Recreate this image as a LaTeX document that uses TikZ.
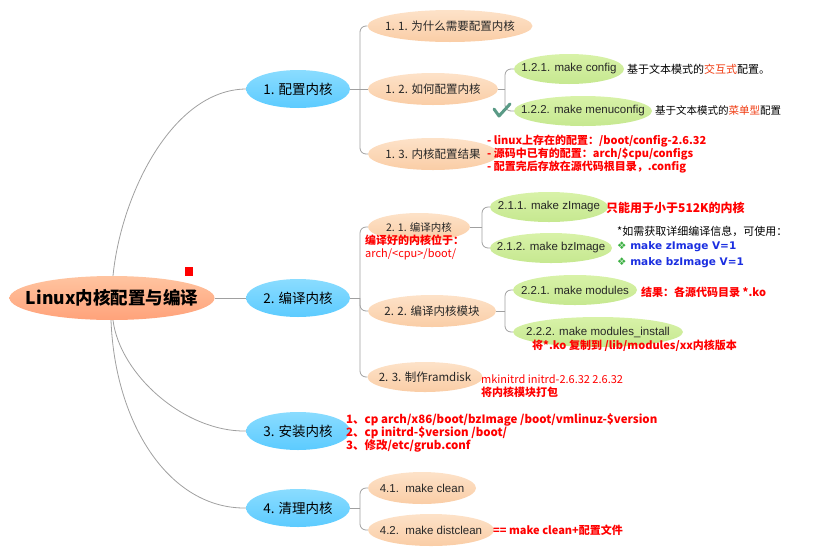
\documentclass[tikz,border=0pt]{standalone}
\usepackage{fontspec}
\setmainfont{Liberation Sans}
\newfontfamily\cjk{Noto Sans CJK SC}
\newfontfamily\dvs{DejaVu Sans}
\usetikzlibrary{shapes.geometric}
\definecolor{conncol}{HTML}{A0A0A0}
\definecolor{redtxt}{HTML}{FF0000}
\definecolor{orred}{HTML}{F03A10}
\definecolor{bluetxt}{HTML}{1A2EE0}
\definecolor{diamcol}{HTML}{3CB043}
\definecolor{checkcol}{HTML}{5A9A86}
\definecolor{roottop}{HTML}{FFC4A0}
\definecolor{rootmid}{HTML}{FF7A3C}
\definecolor{rootbot}{HTML}{FFA27A}
\definecolor{bluetop}{HTML}{8ADCFF}
\definecolor{bluemid}{HTML}{00A6EE}
\definecolor{bluebot}{HTML}{5CCBFF}
\definecolor{peachtop}{HTML}{FDE2C8}
\definecolor{peachmid}{HTML}{F6B47F}
\definecolor{peachbot}{HTML}{FACDA6}
\definecolor{greentop}{HTML}{D8F2A8}
\definecolor{greenmid}{HTML}{94CE44}
\definecolor{greenbot}{HTML}{C6E890}
\tikzset{
  base/.style={ellipse, inner sep=-40pt, draw=none},
  rootnode/.style={base, top color=roottop, middle color=rootmid, bottom color=rootbot},
  lone/.style={base, top color=bluetop, middle color=bluemid, bottom color=bluebot},
  ltwo/.style={base, top color=peachtop, middle color=peachmid, bottom color=peachbot},
  lthree/.style={base, top color=greentop, middle color=greenmid, bottom color=greenbot},
  conn/.style={draw=conncol, line width=0.8pt},
  bracket/.style={conn, rounded corners=6pt},
  lbl/.style={anchor=west, inner sep=0pt, align=left},
  redlbl/.style={lbl, text=redtxt, font=\cjk\bfseries\fontsize{11}{13}\selectfont},
  twofont/.style={font=\cjk\fontsize{11.5}{13}\selectfont, text=black!85},
  threefont/.style={font=\fontsize{11.5}{13}\selectfont, text=black!85},
}
\begin{document}
\begin{tikzpicture}[x=1pt,y=-1pt]
\useasboundingbox (0,0) rectangle (840,555);
% root
\node[rootnode, minimum width=205pt, minimum height=44pt] (root) at (112,298)
  {\cjk\bfseries\fontsize{17.5}{19}\selectfont Linux内核配置与编译};
\fill[red] (185,267) rectangle (193,276);
% level 1
\node[lone, minimum width=104pt, minimum height=38pt] (n1) at (298,89) {\cjk\fontsize{13.5}{15}\selectfont 1. 配置内核};
\node[lone, minimum width=104pt, minimum height=38pt] (n2) at (298,298) {\cjk\fontsize{13.5}{15}\selectfont 2. 编译内核};
\node[lone, minimum width=104pt, minimum height=38pt] (n3) at (298,431) {\cjk\fontsize{13.5}{15}\selectfont 3. 安装内核};
\node[lone, minimum width=104pt, minimum height=38pt] (n4) at (298,508) {\cjk\fontsize{13.5}{15}\selectfont 4. 清理内核};
% level 2
\node[ltwo, twofont, minimum width=165pt, minimum height=32pt] (n11) at (450,26) {1. 1. 为什么需要配置内核};
\node[ltwo, twofont, minimum width=130pt, minimum height=32pt] (n12) at (433,89) {1. 2. 如何配置内核};
\node[ltwo, twofont, minimum width=130pt, minimum height=32pt] (n13) at (433,154) {1. 3. 内核配置结果};
\node[ltwo, twofont, font=\cjk\fontsize{10.5}{12}\selectfont, minimum width=102pt, minimum height=28pt] (n21) at (419,227) {2. 1. 编译内核};
\node[ltwo, twofont, minimum width=128pt, minimum height=32pt] (n22) at (432,311) {2. 2. 编译内核模块};
\node[ltwo, twofont, minimum width=115pt, minimum height=30pt] (n23) at (425,377) {2. 3. 制作ramdisk};
\node[ltwo, threefont, minimum width=108pt, minimum height=32pt] (n41) at (422,488) {4.1.\ \ make clean};
\node[ltwo, threefont, minimum width=126pt, minimum height=32pt] (n42) at (431,530) {4.2.\ \ make distclean};
% level 3
\node[lthree, threefont, minimum width=110pt, minimum height=30pt] (n121) at (569,69) {1.2.1. make config};
\node[lthree, threefont, minimum width=138pt, minimum height=30pt] (n122) at (583,111) {1.2.2. make menuconfig};
\node[lthree, threefont, minimum width=118pt, minimum height=30pt] (n211) at (549,207) {2.1.1. make zImage};
\node[lthree, threefont, minimum width=122pt, minimum height=30pt] (n212) at (551,248) {2.1.2. make bzImage};
\node[lthree, threefont, minimum width=124pt, minimum height=30pt] (n221) at (575,290) {2.2.1. make modules};
\node[lthree, threefont, minimum width=170pt, minimum height=30pt] (n222) at (598,332) {2.2.2. make modules\_install};
% connectors from root
\draw[conn] (root.east) -- (n2.west);
\draw[conn] ([xshift=1pt]root.north) .. controls (121,195) and (172,90) .. (n1.west);
\draw[conn] ([xshift=1pt]root.south) .. controls (120,375) and (185,432) .. (n3.west);
\draw[conn] ([xshift=-1pt]root.south) .. controls (115,425) and (170,509) .. (n4.west);
% brackets
\coordinate (b1) at (360,89);
\draw[conn] (n1.east) -- (b1);
\draw[bracket] (b1) |- (n11.west);
\draw[bracket] (b1) |- (n13.west);
\draw[conn] (b1) -- (n12.west);
\coordinate (b12) at (505,89);
\draw[conn] (n12.east) -- (b12);
\draw[bracket] (b12) |- (n121.west);
\draw[bracket] (b12) |- (n122.west);
\coordinate (b2) at (360,298);
\draw[conn] (n2.east) -- (b2);
\draw[bracket] (b2) |- (n21.west);
\draw[bracket] (b2) |- (n22.west);
\draw[bracket] (b2) |- (n23.west);
\coordinate (b21) at (482,227);
\draw[conn] (n21.east) -- (b21);
\draw[bracket] (b21) |- (n211.west);
\draw[bracket] (b21) |- (n212.west);
\coordinate (b22) at (505,311);
\draw[conn] (n22.east) -- (b22);
\draw[bracket] (b22) |- (n221.west);
\draw[bracket] (b22) |- (n222.west);
\coordinate (b4) at (360,508);
\draw[conn] (n4.east) -- (b4);
\draw[bracket] (b4) |- (n41.west);
\draw[bracket] (b4) |- (n42.west);
% check mark
\draw[checkcol, line width=3pt, line cap=round, line join=round] (494,109) -- (499,116) -- (510,104);
% labels
\node[lbl, fill=white, inner sep=1pt, font=\cjk\fontsize{11}{12}\selectfont] (t121) at (626,69) {基于文本模式的\textcolor{orred}{交互式}配置。};
\node[lbl, fill=white, inner sep=1pt, font=\cjk\fontsize{10.5}{12}\selectfont] (t122) at (654,110) {基于文本模式的\textcolor{orred}{菜单型}配置};
\node[redlbl] (t13) at (487,154) {- linux上存在的配置：/boot/config-2.6.32\\- 源码中已有的配置：arch/\$cpu/configs\\- 配置完后存放在源代码根目录，.config};
\node[redlbl, font=\cjk\bfseries\fontsize{12}{14}\selectfont] (t211) at (606,208) {只能用于小于512K的内核};
\node[lbl, font=\cjk\fontsize{11}{12}\selectfont] (tinfo) at (617,231) {*如需获取详细编译信息，可使用：};
\node[lbl, font=\dvs\bfseries\fontsize{10.5}{12}\selectfont] (tz) at (617,247) {\textcolor{diamcol}{❖} \textcolor{bluetxt}{make zImage V=1}};
\node[lbl, font=\dvs\bfseries\fontsize{10.5}{12}\selectfont] (tbz) at (617,263) {\textcolor{diamcol}{❖} \textcolor{bluetxt}{make bzImage V=1}};
\node[redlbl, font=\cjk\fontsize{11}{13}\selectfont] (t21) at (365,247) {\bfseries 编译好的内核位于：\\\mdseries arch/<cpu>/boot/};
\node[redlbl] (t221) at (641,292) {结果：各源代码目录 *.ko};
\node[redlbl] (t222) at (532,346) {将*.ko 复制到 /lib/modules/xx内核版本};
\node[redlbl, font=\cjk\fontsize{11}{13.5}\selectfont] (t23) at (481,386) {mkinitrd initrd-2.6.32 2.6.32\\\bfseries 将内核模块打包};
\node[redlbl, font=\cjk\bfseries\fontsize{11.5}{13}\selectfont] (t3) at (346,433) {1、cp arch/x86/boot/bzImage /boot/vmlinuz-\$version\\2、cp initrd-\$version /boot/\\3、修改/etc/grub.conf};
\node[redlbl] (t42) at (493,530) {== make clean+配置文件};
\end{tikzpicture}
\end{document}
